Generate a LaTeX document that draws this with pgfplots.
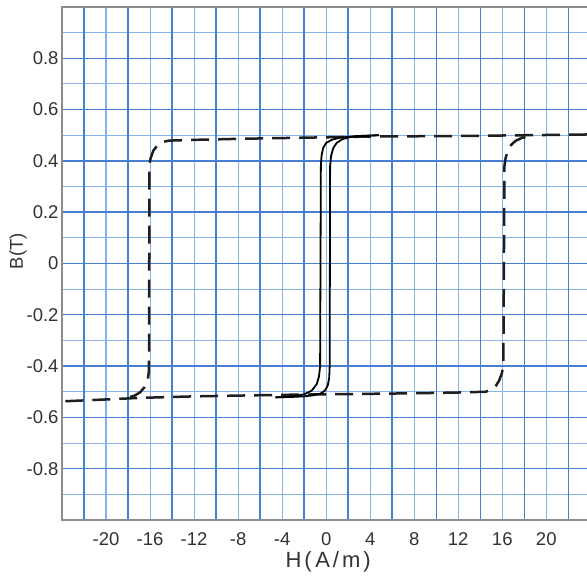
\documentclass[border=0pt]{standalone}
\usepackage{pgfplots}
\pgfplotsset{compat=1.18}
\usepackage{fontspec}
\setmainfont{Liberation Sans}

\definecolor{gridmajor}{RGB}{70,126,212}
\definecolor{gridminor}{RGB}{136,178,236}
\definecolor{framegray}{RGB}{140,140,140}
\definecolor{labelgray}{RGB}{50,50,50}

\begin{document}
\begin{tikzpicture}
\begin{axis}[
  name=ax, at={(0,0)}, anchor=south west,
  scale only axis, width=525bp, height=513bp,
  xmin=-24, xmax=23.7, ymin=-1, ymax=1,
  xtick={-20,-16,-12,-8,-4,0,4,8,12,16,20},
  xticklabels={-20,-16,-12,-8,-4,0,4,8,12,16,20},
  ytick={-0.8,-0.6,-0.4,-0.2,0,0.2,0.4,0.6,0.8},
  yticklabels={-0.8,-0.6,-0.4,-0.2,0,0.2,0.4,0.6,0.8},
  tick style={draw=none},
  axis line style={draw=none},
  ticklabel style={font=\fontsize{18.5bp}{20bp}\selectfont, text=labelgray},
  xticklabel style={anchor=base, yshift=-25bp},
  xlabel={H\kern3bp(\kern3.5bp A\kern3bp/\kern3bp m\kern3bp)},
  xlabel style={font=\fontsize{22bp}{24bp}\selectfont, text=labelgray,
    at={(axis description cs:0.507,0)}, anchor=base, yshift=-47bp},
  ylabel={B(T)},
  ylabel style={font=\fontsize{18.5bp}{20bp}\selectfont, text=labelgray,
    at={(axis description cs:-0.0743,0.524)}, anchor=base},
  clip=true,
]
% graph-paper rules: light every 0.1 T and at the labelled H values,
% heavy at the labelled B values and between the labelled H values
\pgfplotsinvokeforeach{-0.9,-0.7,-0.5,-0.3,-0.1,0.1,0.3,0.5,0.7,0.9}{
  \draw[gridminor, line width=1.1bp] (axis cs:-24,#1) -- (axis cs:24,#1);}
\pgfplotsinvokeforeach{-20,-16,-12,-8,-4,0,4,8,12,16,20}{
  \draw[gridminor, line width=1.1bp] (axis cs:#1,-1) -- (axis cs:#1,1);}
\pgfplotsinvokeforeach{-0.8,-0.6,-0.4,-0.2,0,0.2,0.4,0.6,0.8}{
  \draw[gridmajor, line width=1.4bp] (axis cs:-24,#1) -- (axis cs:24,#1);}
\pgfplotsinvokeforeach{-22,-18,-14,-10,-6,-2,2,6,10,14,18,22}{
  \draw[gridmajor, line width=1.4bp] (axis cs:#1,-1) -- (axis cs:#1,1);}
% wide loop: rising branch (bottom edge, right flank)
\addplot[black!88, line width=2.5bp, dash pattern=on 18bp off 9bp, line join=round] coordinates {
  (-23.7,-0.537) (-20,-0.530) (-17,-0.524) (-12,-0.518) (-8,-0.515)
  (-4,-0.512) (0,-0.510) (4,-0.508) (8,-0.506) (12,-0.503) (14.5,-0.500)
  (15.0,-0.492) (15.4,-0.478) (15.7,-0.458) (15.95,-0.43) (16.1,-0.40)
  (16.2,0.38) (16.3,0.41) (16.5,0.44) (16.8,0.462) (17.2,0.478)
  (17.8,0.490) (18.6,0.497)
};
% wide loop: falling branch (top edge, left flank)
\addplot[black!88, line width=2.5bp, dash pattern=on 18bp off 9bp, line join=round] coordinates {
  (23.7,0.503) (20,0.501) (16,0.499) (12,0.497) (8,0.496) (4,0.495)
  (0,0.492) (-4,0.489) (-8,0.486) (-12,0.482) (-14.3,0.479)
  (-14.8,0.474) (-15.3,0.462) (-15.7,0.44) (-15.95,0.41) (-16.05,0.385)
  (-16.1,-0.42) (-16.2,-0.452) (-16.5,-0.482) (-16.9,-0.502)
  (-17.4,-0.515) (-18.2,-0.525)
};
% narrow loop: rising branch
\addplot[black, line width=1.8bp, line join=round] coordinates {
  (-4.6,-0.522) (-3,-0.520) (-2,-0.518) (-1.2,-0.514) (-0.5,-0.507)
  (-0.1,-0.495) (0.15,-0.475) (0.28,-0.445) (0.32,-0.40)
  (0.36,0.38) (0.45,0.42) (0.65,0.45) (0.95,0.47) (1.5,0.485)
  (2.2,0.493) (3,0.497) (4,0.499) (4.8,0.500)
};
% narrow loop: falling branch
\addplot[black, line width=1.8bp, line join=round] coordinates {
  (4.8,0.500) (3,0.497) (2,0.494) (1.2,0.490) (0.5,0.482) (0,0.470)
  (-0.28,0.45) (-0.42,0.42) (-0.48,0.38)
  (-0.55,-0.40) (-0.65,-0.44) (-0.85,-0.47) (-1.3,-0.495)
  (-2,-0.510) (-3,-0.518) (-4.6,-0.522)
};
\end{axis}
% frame on three sides
\draw[framegray, line width=1.5bp]
  (ax.north east) -- (ax.north west) -- (ax.south west) -- (ax.south east);
\pgfresetboundingbox
\path[use as bounding box] (-62bp,-56bp) rectangle (525bp,520bp);
\end{tikzpicture}
\end{document}
